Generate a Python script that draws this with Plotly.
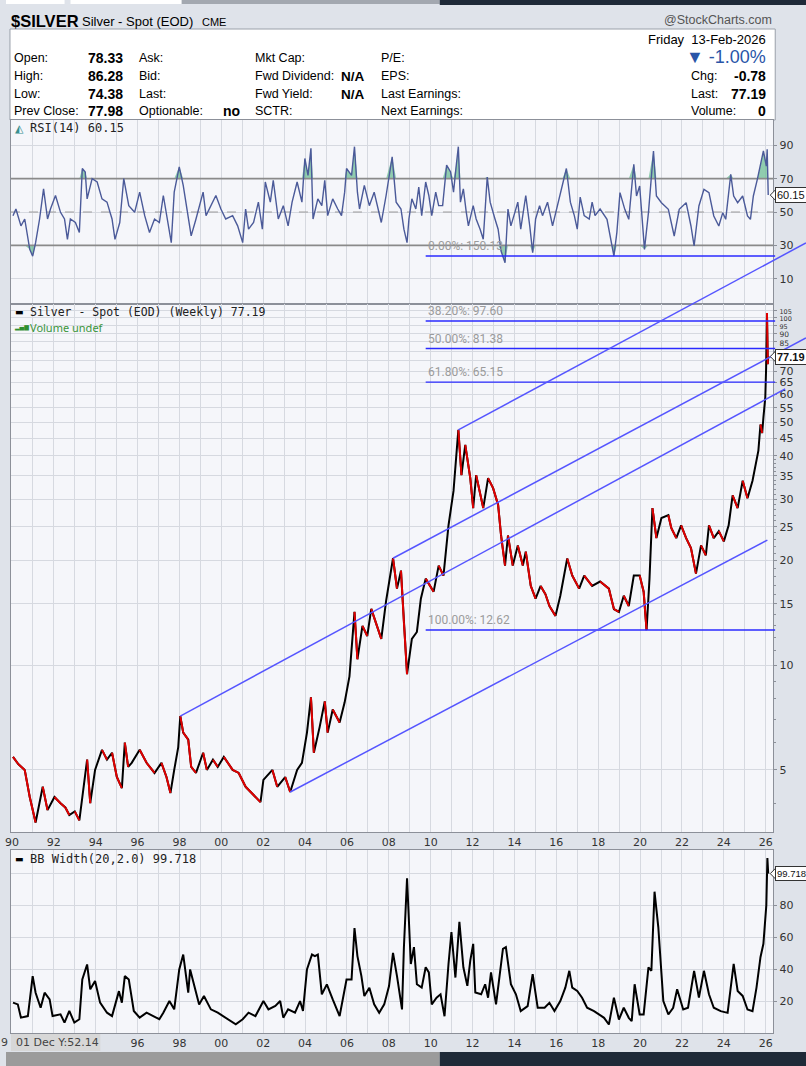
import math
import plotly.graph_objects as go

W, H = 806, 1066

# ------------------------------------------------------------------ data
price_t = [1990.05, 1990.30, 1990.61, 1990.85, 1991.13, 1991.30, 1991.47, 1991.70, 1992.03, 1992.32,
           1992.55, 1992.74, 1993.00, 1993.22, 1993.45, 1993.59, 1993.74, 1993.97, 1994.30, 1994.54,
           1994.78, 1995.01, 1995.25, 1995.39, 1995.55, 1995.72, 1996.10, 1996.43, 1996.81, 1997.14,
           1997.38, 1997.57, 1997.75, 1997.94, 1998.04, 1998.18, 1998.42, 1998.56, 1998.79, 1999.13,
           1999.31, 1999.60, 1999.83, 2000.12, 2000.54, 2000.83, 2001.16, 2001.63, 2001.87, 2002.01,
           2002.44, 2002.67, 2003.05, 2003.29, 2003.62, 2003.85, 2004.09, 2004.28, 2004.42, 2004.70,
           2004.94, 2005.08, 2005.32, 2005.65, 2005.89, 2006.12, 2006.36, 2006.50, 2006.74, 2006.97,
           2007.16, 2007.64, 2007.87, 2008.20, 2008.39, 2008.58, 2008.72, 2008.87, 2009.10, 2009.34,
           2009.53, 2009.76, 2010.14, 2010.38, 2010.61, 2010.85, 2011.09, 2011.32, 2011.47, 2011.65,
           2011.89, 2012.03, 2012.17, 2012.51, 2012.74, 2012.98, 2013.22, 2013.36, 2013.55, 2013.69,
           2013.92, 2014.16, 2014.40, 2014.54, 2014.78, 2015.01, 2015.25, 2015.48, 2015.67, 2015.96,
           2016.19, 2016.52, 2016.76, 2017.09, 2017.33, 2017.71, 2018.09, 2018.51, 2018.75, 2018.99,
           2019.22, 2019.46, 2019.70, 2019.98, 2020.17, 2020.31, 2020.45, 2020.59, 2020.78, 2021.02,
           2021.35, 2021.49, 2021.73, 2021.96, 2022.20, 2022.43, 2022.67, 2022.91, 2023.14, 2023.29,
           2023.52, 2023.76, 2024.00, 2024.23, 2024.42, 2024.66, 2024.90, 2025.13, 2025.37, 2025.51,
           2025.65, 2025.75, 2025.83, 2025.89, 2025.98, 2026.02, 2026.06, 2026.10, 2026.12]
price_v = [5.45, 5.20, 5.00, 4.18, 3.53, 4.00, 4.47, 3.83, 4.18, 4.01,
           3.90, 3.71, 3.80, 3.58, 4.50, 5.35, 4.01, 5.00, 5.71, 5.35,
           5.60, 4.77, 4.43, 5.99, 5.10, 5.24, 5.71, 5.24, 4.90, 5.24,
           4.77, 4.29, 5.00, 5.80, 7.14, 6.40, 6.11, 5.10, 4.90, 5.60,
           5.00, 5.35, 5.10, 5.45, 5.00, 4.90, 4.47, 4.18, 4.04, 4.68,
           5.00, 4.47, 4.77, 4.32, 5.00, 5.24, 6.40, 8.08, 5.60, 6.66,
           7.87, 6.40, 7.46, 6.84, 7.82, 9.29, 14.23, 10.40, 12.97, 12.13,
           14.52, 11.90, 15.32, 20.30, 16.60, 18.70, 13.30, 9.42, 11.90, 12.46,
           15.53, 17.74, 16.27, 19.34, 18.10, 25.25, 31.70, 47.50, 35.20, 43.00,
           34.50, 28.30, 35.20, 28.30, 34.50, 32.30, 28.90, 23.60, 19.34, 23.60,
           19.34, 22.10, 19.34, 21.20, 16.90, 15.53, 16.90, 16.00, 14.80, 13.86,
           15.84, 20.27, 18.10, 16.60, 18.10, 16.90, 17.40, 16.60, 14.50, 14.23,
           15.84, 14.80, 18.10, 18.10, 16.27, 12.62, 17.74, 28.30, 23.20, 26.50,
           27.00, 24.80, 23.20, 25.25, 23.20, 21.70, 18.34, 22.10, 20.70, 25.25,
           23.20, 24.30, 22.70, 25.25, 30.80, 28.30, 33.90, 30.20, 33.90, 37.70,
           41.40, 49.20, 46.50, 51.50, 58.90, 71.50, 103.0, 73.40, 77.19]

rsi_t = [1990.05, 1990.19, 1990.43, 1990.61, 1990.85, 1990.99, 1991.13, 1991.32, 1991.51, 1991.70,
         1991.84, 1992.08, 1992.32, 1992.51, 1992.65, 1992.79, 1993.03, 1993.22, 1993.36, 1993.50,
         1993.59, 1993.83, 1994.07, 1994.30, 1994.54, 1994.78, 1994.92, 1995.15, 1995.34, 1995.58,
         1995.86, 1996.10, 1996.34, 1996.57, 1996.81, 1997.04, 1997.23, 1997.38, 1997.61, 1997.75,
         1997.99, 1998.18, 1998.42, 1998.56, 1998.79, 1999.13, 1999.27, 1999.60, 1999.74, 1999.98,
         2000.21, 2000.54, 2000.78, 2001.02, 2001.16, 2001.30, 2001.54, 2001.77, 2001.96, 2002.10,
         2002.34, 2002.48, 2002.72, 2002.96, 2003.19, 2003.38, 2003.62, 2003.85, 2003.99, 2004.14,
         2004.28, 2004.38, 2004.61, 2004.80, 2004.94, 2005.08, 2005.32, 2005.56, 2005.74, 2005.89,
         2005.98, 2006.22, 2006.36, 2006.50, 2006.60, 2006.83, 2007.07, 2007.30, 2007.64, 2007.87,
         2008.16, 2008.35, 2008.58, 2008.72, 2008.87, 2008.96, 2009.10, 2009.29, 2009.43, 2009.57,
         2009.76, 2009.91, 2010.05, 2010.24, 2010.38, 2010.57, 2010.76, 2010.95, 2011.09, 2011.23,
         2011.32, 2011.42, 2011.56, 2011.70, 2011.80, 2012.03, 2012.17, 2012.36, 2012.51, 2012.70,
         2012.84, 2013.07, 2013.22, 2013.36, 2013.55, 2013.69, 2013.83, 2014.02, 2014.16, 2014.30,
         2014.54, 2014.73, 2014.87, 2015.01, 2015.20, 2015.34, 2015.58, 2015.82, 2016.05, 2016.29,
         2016.48, 2016.67, 2016.86, 2017.00, 2017.14, 2017.33, 2017.57, 2017.71, 2017.85, 2018.09,
         2018.42, 2018.66, 2018.75, 2018.89, 2019.04, 2019.27, 2019.46, 2019.70, 2019.83, 2019.98,
         2020.21, 2020.40, 2020.64, 2020.78, 2021.02, 2021.35, 2021.63, 2021.87, 2022.20, 2022.43,
         2022.58, 2022.81, 2023.05, 2023.29, 2023.52, 2023.76, 2023.95, 2024.09, 2024.33, 2024.47,
         2024.66, 2024.90, 2025.13, 2025.27, 2025.41, 2025.60, 2025.75, 2025.89, 2026.03, 2026.07,
         2026.12]
rsi_v = [47.8, 51.8, 41.7, 45.8, 27.6, 23.5, 31.6, 45.8, 63.9, 45.8,
         51.8, 59.9, 49.8, 45.8, 33.6, 45.8, 43.7, 37.7, 76.1, 74.0,
         57.9, 70.0, 68.0, 57.9, 55.9, 45.8, 33.6, 43.7, 70.0, 53.8,
         49.8, 61.9, 47.8, 37.7, 45.8, 43.7, 59.9, 47.8, 31.6, 61.9,
         77.1, 66.0, 45.8, 35.7, 45.8, 61.9, 47.8, 55.9, 59.9, 51.8,
         45.8, 47.8, 41.7, 31.6, 51.8, 39.7, 43.7, 55.9, 39.7, 68.0,
         55.9, 69.0, 45.8, 53.8, 41.7, 55.9, 68.0, 55.9, 82.1, 72.0,
         88.2, 45.8, 57.9, 53.8, 69.0, 47.8, 57.9, 51.8, 47.8, 61.9,
         76.1, 72.0, 89.2, 61.9, 51.8, 66.0, 53.8, 61.9, 43.7, 59.9,
         83.1, 55.9, 51.8, 39.7, 31.6, 45.8, 57.9, 51.8, 64.9, 47.8,
         68.0, 59.9, 47.8, 61.9, 53.8, 53.8, 78.1, 74.0, 61.9, 79.1,
         89.2, 55.9, 63.9, 49.8, 41.7, 53.8, 45.8, 39.7, 33.6, 71.0,
         55.9, 45.8, 39.7, 26.6, 19.5, 51.8, 41.7, 49.8, 55.9, 39.7,
         59.9, 41.7, 25.6, 45.8, 53.8, 47.8, 55.9, 41.7, 53.8, 66.0,
         76.1, 55.9, 47.8, 39.7, 58.9, 47.8, 45.8, 55.9, 47.8, 51.8,
         45.6, 29.6, 23.6, 37.6, 61.6, 51.6, 45.6, 78.6, 59.6, 65.6,
         27.6, 49.6, 86.6, 59.6, 55.6, 51.6, 35.6, 51.6, 55.6, 41.6,
         29.6, 53.6, 63.6, 61.6, 47.6, 41.6, 49.6, 45.6, 72.6, 59.6,
         55.6, 59.6, 47.6, 45.6, 59.6, 69.6, 77.6, 86.6, 77.6, 87.6,
         60.15]

bbw_t = [1990.05, 1990.28, 1990.43, 1990.76, 1990.99, 1991.13, 1991.37, 1991.56, 1991.80, 1991.94,
         1992.32, 1992.51, 1992.74, 1992.98, 1993.22, 1993.36, 1993.59, 1993.74, 1993.97, 1994.21,
         1994.54, 1994.78, 1995.11, 1995.25, 1995.39, 1995.58, 1995.82, 1996.10, 1996.43, 1996.76,
         1997.04, 1997.23, 1997.52, 1997.75, 1997.99, 1998.18, 1998.42, 1998.51, 1998.70, 1998.94,
         1999.17, 1999.50, 1999.83, 2000.21, 2000.69, 2001.02, 2001.30, 2001.63, 2002.01, 2002.25,
         2002.58, 2002.81, 2002.96, 2003.19, 2003.52, 2003.76, 2003.90, 2004.09, 2004.33, 2004.47,
         2004.61, 2004.80, 2005.04, 2005.32, 2005.65, 2005.98, 2006.22, 2006.36, 2006.50, 2006.69,
         2006.83, 2007.07, 2007.30, 2007.54, 2007.78, 2008.01, 2008.20, 2008.39, 2008.63, 2008.72,
         2008.87, 2009.05, 2009.20, 2009.34, 2009.57, 2009.76, 2009.91, 2010.05, 2010.28, 2010.47,
         2010.66, 2010.85, 2010.99, 2011.18, 2011.37, 2011.56, 2011.75, 2011.89, 2012.03, 2012.13,
         2012.41, 2012.60, 2012.74, 2012.88, 2013.12, 2013.45, 2013.59, 2013.83, 2014.07, 2014.30,
         2014.63, 2014.87, 2015.11, 2015.44, 2015.67, 2015.91, 2016.19, 2016.43, 2016.62, 2016.76,
         2017.00, 2017.23, 2017.47, 2017.80, 2018.04, 2018.28, 2018.51, 2018.75, 2018.99, 2019.22,
         2019.46, 2019.60, 2019.74, 2019.98, 2020.17, 2020.40, 2020.54, 2020.69, 2020.87, 2021.11,
         2021.35, 2021.58, 2021.77, 2022.06, 2022.29, 2022.58, 2022.81, 2023.05, 2023.29, 2023.52,
         2023.85, 2024.18, 2024.47, 2024.66, 2024.90, 2025.13, 2025.37, 2025.56, 2025.75, 2025.89,
         2026.03, 2026.08, 2026.12]
bbw_v = [19.0, 17.9, 9.6, 10.6, 35.6, 25.2, 15.8, 25.2, 21.0, 10.6,
         11.7, 6.5, 13.8, 6.5, 8.6, 33.5, 42.9, 27.3, 32.5, 19.0,
         12.7, 10.6, 26.2, 19.0, 35.6, 33.5, 13.8, 9.6, 12.7, 10.6,
         8.6, 12.7, 20.0, 14.8, 39.8, 49.1, 25.2, 39.8, 29.4, 17.9,
         23.1, 14.8, 12.7, 9.6, 5.4, 8.6, 12.7, 10.6, 20.0, 14.8,
         16.9, 20.0, 9.6, 14.8, 12.7, 20.0, 13.8, 39.8, 49.1, 48.1,
         49.1, 24.2, 30.4, 21.0, 10.6, 33.5, 33.5, 65.7, 48.1, 35.6,
         23.1, 28.3, 17.9, 12.7, 17.9, 29.4, 50.1, 35.6, 14.8, 53.7,
         96.8, 43.2, 53.7, 30.5, 28.4, 41.1, 37.9, 17.9, 22.1, 24.2,
         10.5, 43.2, 63.2, 34.7, 69.5, 41.1, 29.5, 45.3, 55.8, 25.3,
         24.2, 30.5, 22.1, 37.9, 17.9, 52.6, 53.7, 30.5, 24.2, 13.7,
         16.8, 36.8, 15.8, 15.8, 18.9, 13.7, 20.0, 28.4, 38.9, 28.4,
         26.3, 22.1, 15.8, 13.7, 11.6, 9.5, 5.3, 22.1, 8.4, 15.8,
         9.5, 7.4, 30.5, 11.6, 11.6, 41.1, 38.9, 88.4, 66.3, 20.0,
         11.6, 15.8, 27.4, 14.7, 15.8, 38.9, 22.1, 38.9, 24.2, 15.8,
         13.7, 12.6, 43.2, 26.3, 23.2, 14.7, 13.7, 28.4, 47.4, 55.8,
         80.0, 109.5, 99.718]

fib_pct = ["0.00%", "38.20%", "50.00%", "61.80%", "100.00%"]
fib_val = [150.13, 97.60, 81.38, 65.15, 12.62]
fib_t = [2009.76, 2026.45]

chan_t0 = [1998.04, 2003.29, 2008.20, 2011.32]
chan_p0 = [7.14, 4.32, 20.30, 47.50]
chan_t1 = [2026.93, 2026.08, 2027.92, 2027.92]
chan_p1 = [62.3, 22.9, 87.3, 163.7]

price_ticks = [5, 10, 15, 20, 25, 30, 35, 40, 45, 50, 55, 60, 65, 70, 75, 80, 85, 90, 95, 100, 105]
price_tick_text = ["5", "10", "15", "20", "25", "30", "35", "40", "45", "50", "55", "60", "65", "70",
                   "", "", "85", "90", "95", "100", "105"]
price_minor = [4, 6, 7, 8, 9, 11, 12, 13, 14, 16, 17, 18, 19, 21, 22, 23, 24, 26, 27, 28, 29,
               31, 32, 33, 34, 36, 37, 38, 39]
rsi_ticks = [10, 30, 50, 70, 90]
bbw_ticks = [20, 40, 60, 80, 100]
years = list(range(1990, 2027))
year_text = [f"{y % 100:02d}" if y % 2 == 0 else "" for y in years]
year_text_bottom = ["" if y < 1995 else t for y, t in zip(years, year_text)]

last_rsi, last_price, last_bbw = 60.15, 77.19, 99.718

# ------------------------------------------------------------------ layout geometry (pixels)
PL, PR = 5, 773
RSI_T, RSI_B = 120, 304
MAIN_T, MAIN_B = 304, 832
BB_T, BB_B = 850, 1033
OVR_R = 806
X0, X1 = 1989.953, 2026.36
RSI_RANGE = [-5.2, 105.2]
BB_RANGE = [0, 114.5]


def main_log_at(py):
    return 1 + (665.2 - py) / 347.8


def xp(px):
    return px / W


def yp(py):
    return 1 - py / H


def lin_px(v, rng, top, bot):
    return top + (rng[1] - v) / (rng[1] - rng[0]) * (bot - top)


OVX1 = X0 + (OVR_R - PL) * (X1 - X0) / (PR - PL)
MAIN_RANGE = [main_log_at(MAIN_B), main_log_at(MAIN_T)]

HDR = "Liberation Sans, Arial, sans-serif"
MONO = "DejaVu Sans Mono, monospace"
SANS = "DejaVu Sans, Verdana, sans-serif"
GRID = "#d6d9e0"
BORDER = "#8c9099"

fig = go.Figure()

# ---------------- RSI panel
n = len(rsi_t)
fig.add_trace(go.Scatter(x=rsi_t, y=[70] * n, mode="lines", line=dict(width=0), xaxis="x", yaxis="y",
                         showlegend=False, hoverinfo="skip"))
fig.add_trace(go.Scatter(x=rsi_t, y=[max(v, 70) for v in rsi_v], mode="lines", line=dict(width=0),
                         fill="tonexty", fillcolor="rgba(110,190,150,0.75)", xaxis="x", yaxis="y",
                         showlegend=False, hoverinfo="skip"))
fig.add_trace(go.Scatter(x=rsi_t, y=[30] * n, mode="lines", line=dict(width=0), xaxis="x", yaxis="y",
                         showlegend=False, hoverinfo="skip"))
fig.add_trace(go.Scatter(x=rsi_t, y=[min(v, 30) for v in rsi_v], mode="lines", line=dict(width=0),
                         fill="tonexty", fillcolor="rgba(110,190,150,0.75)", xaxis="x", yaxis="y",
                         showlegend=False, hoverinfo="skip"))
for lvl, dash, col, wd in [(70, "solid", "#8a8a8a", 1.6), (30, "solid", "#8a8a8a", 1.6), (50, "dash", "#9c9c9c", 1)]:
    fig.add_trace(go.Scatter(x=[X0, X1], y=[lvl, lvl], mode="lines", line=dict(color=col, width=wd, dash=dash),
                             xaxis="x", yaxis="y", showlegend=False, hoverinfo="skip"))
fig.add_trace(go.Scatter(x=rsi_t, y=rsi_v, mode="lines", line=dict(color="#4b5a99", width=1.4),
                         xaxis="x", yaxis="y", showlegend=False))

# ---------------- price panel (black line, red on down segments)
fig.add_trace(go.Scatter(x=price_t, y=price_v, mode="lines", line=dict(color="#000000", width=2),
                         xaxis="x2", yaxis="y2", showlegend=False))
rx, ry = [], []
for i in range(len(price_t) - 1):
    if price_v[i + 1] < price_v[i]:
        rx += [price_t[i], price_t[i + 1], None]
        ry += [price_v[i], price_v[i + 1], None]
fig.add_trace(go.Scatter(x=rx, y=ry, mode="lines", line=dict(color="#e00000", width=2),
                         xaxis="x2", yaxis="y2", showlegend=False, connectgaps=False))

# ---------------- BB width panel
fig.add_trace(go.Scatter(x=bbw_t, y=bbw_v, mode="lines", line=dict(color="#000000", width=2),
                         xaxis="x3", yaxis="y3", showlegend=False))

# ---------------- overlay: fib lines and channel lines
for v in fib_val:
    fig.add_trace(go.Scatter(x=fib_t, y=[v, v], mode="lines", line=dict(color="#2a2aff", width=1.4),
                             xaxis="x4", yaxis="y4", showlegend=False, hoverinfo="skip"))
for t0, p0, t1, p1 in zip(chan_t0, chan_p0, chan_t1, chan_p1):
    fig.add_trace(go.Scatter(x=[t0, t1], y=[p0, p1], mode="lines", line=dict(color="#5555ff", width=1.5),
                             xaxis="x4", yaxis="y4", showlegend=False, hoverinfo="skip"))

# ---------------- shapes: page strips, info box, panel backgrounds
shapes = []


def rect(x0, y0, x1, y1, fill, line=None, layer="below"):
    shapes.append(dict(type="rect", xref="paper", yref="paper", x0=xp(x0), x1=xp(x1), y0=yp(y1), y1=yp(y0),
                       fillcolor=fill, line=dict(width=1 if line else 0, color=line or fill), layer=layer))


rect(0, 0, 59, 4, "#ffffff")
rect(65, 0, 177, 4, "#ffffff")
rect(177, 0, 437, 4, "#a3a8b0")
rect(437, 0, 806, 5, "#1f2a38")
rect(4, 29, 775, 120, "#ffffff", "#9aa0aa")
rect(PL, RSI_T, PR, RSI_B, "#f5f6fa")
rect(PL, MAIN_T, PR, MAIN_B, "#f5f6fa")
rect(PL, BB_T, PR, BB_B, "#f5f6fa")
rect(0, 1052, 437, 1066, "#9b9b9b")
rect(437, 1052, 806, 1066, "#1f2a38")
rect(5, 1034, 95, 1051, "#d7d7d7", layer="above")

# callout pointers (small left-pointing triangles)
callout_px = [lin_px(last_rsi, RSI_RANGE, RSI_T, RSI_B),
              lin_px(math.log10(last_price), MAIN_RANGE, MAIN_T, MAIN_B),
              lin_px(last_bbw, BB_RANGE, BB_T, BB_B)]
for py in callout_px:
    shapes.append(dict(type="path", xref="paper", yref="paper", layer="above",
                       path=f"M {xp(770)},{yp(py)} L {xp(776)},{yp(py - 6)} L {xp(776)},{yp(py + 6)} Z",
                       fillcolor="#ffffff", line=dict(color="#333", width=1)))

# ---------------- annotations
ann = []


def txt(x, y, s, size=13, color="#000", family=HDR, anchor="left", bold=False, **kw):
    if bold:
        s = f"<b>{s}</b>"
    d = dict(x=xp(x), y=yp(y), xref="paper", yref="paper", text=s, showarrow=False, xanchor=anchor,
             yanchor="middle", font=dict(size=size, color=color, family=family))
    d.update(kw)
    ann.append(d)


txt(3, 21, "$SILVER", size=16.5, bold=True)
txt(75, 21, "Silver - Spot (EOD)", size=13)
txt(195, 22, "CME", size=11)
txt(774, 20, "@StockCharts.com", size=12.5, color="#555", anchor="right")
txt(768, 39, "Friday  13-Feb-2026", size=13, anchor="right")

row_y = [58, 76, 94, 111]
col1_lab = ["Open:", "High:", "Low:", "Prev Close:"]
col1_val = ["78.33", "86.28", "74.38", "77.98"]
col2_lab = ["Ask:", "Bid:", "Last:", "Optionable:"]
col2_val = ["", "", "", "no"]
col3_lab = ["Mkt Cap:", "Fwd Dividend:", "Fwd Yield:", "SCTR:"]
col3_val = ["", "N/A", "N/A", ""]
col4_lab = ["P/E:", "EPS:", "Last Earnings:", "Next Earnings:"]
right_lab = ["", "Chg:", "Last:", "Volume:"]
right_val = ["", "-0.78", "77.19", "0"]
for i, y in enumerate(row_y):
    txt(6, y, col1_lab[i], size=12.5)
    txt(120, y, col1_val[i], size=14, bold=True, anchor="right")
    txt(132, y, col2_lab[i], size=12.5)
    if col2_val[i]:
        txt(238, y, col2_val[i], size=14, bold=True, anchor="right")
    txt(249, y, col3_lab[i], size=12.5)
    if col3_val[i]:
        txt(364, y, col3_val[i], size=13.5, bold=True, anchor="right")
    txt(376, y, col4_lab[i], size=12.5)
    if right_lab[i]:
        txt(688, y, right_lab[i], size=12.5)
        txt(768, y, right_val[i], size=14, bold=True, anchor="right")
txt(768, 57, "▼ -1.00%", size=18, color="#2a55a8", anchor="right")

txt(7, 128, "◭", size=11, color="#3a8f8f", family=SANS)
txt(22, 128, "RSI(14) 60.15", size=12, family=MONO, color="#222")
txt(7, 312, "▬", size=9, color="#000", family=SANS)
txt(22, 312, "Silver - Spot (EOD) (Weekly) 77.19", size=11.5, family=MONO, color="#222")
txt(6, 327, "▂▄▆", size=6, color="#2f8f2f", family=SANS)
txt(22, 327, "Volume undef", size=11, family="Noto Sans, sans-serif", color="#3b953b")
txt(7, 859, "▬", size=9, color="#000", family=SANS)
txt(22, 859, "BB Width(20,2.0) 99.718", size=12, family=MONO, color="#222")

txt(4, 1042, "9", size=11, family=SANS, color="#444", anchor="right")
txt(8, 1042, "01 Dec Y:52.14", size=11, family=SANS, color="#444")

# fib labels on the overlay axes
for pct, v in zip(fib_pct, fib_val):
    ann.append(dict(x=fib_t[0], y=math.log10(v), xref="x4", yref="y4", text=f"{pct}: {v:.2f}",
                    showarrow=False, xanchor="left", yanchor="bottom", yshift=1,
                    font=dict(size=12, color="#9b9b9b", family="Roboto, sans-serif")))

# last-value callouts
for yref, yv, s, fs in [("y", last_rsi, f"{last_rsi:.2f}", 11),
                        ("y2", math.log10(last_price), f"<b>{last_price:.2f}</b>", 11),
                        ("y3", last_bbw, f"{last_bbw:.3f}", 9.5)]:
    ann.append(dict(x=xp(775), y=yv, xref="paper", yref=yref, text=s, showarrow=False, xanchor="left",
                    yanchor="middle", bgcolor="#ffffff", bordercolor="#333", borderwidth=1, borderpad=1,
                    font=dict(size=fs, color="#111", family=HDR)))

axis_font = dict(size=11, color="#333", family=SANS)
common_x = dict(range=[X0, X1], tickmode="array", tickvals=years, showgrid=True, gridcolor=GRID,
                zeroline=False, showline=True, linecolor=BORDER, mirror=True, ticks="", tickfont=axis_font,
                ticklabeloverflow="allow")
common_y = dict(side="right", showgrid=True, gridcolor=GRID, zeroline=False, showline=True, linecolor=BORDER,
                mirror=True, ticks="outside", ticklen=3, tickcolor=BORDER, tickfont=axis_font)


def tick_label(v, t):
    if v >= 95:
        return f'<span style="font-size:6.5px">{t}</span>'
    if v >= 85:
        return f'<span style="font-size:7.5px">{t}</span>'
    return t


small = [tick_label(v, t) for v, t in zip(price_ticks, price_tick_text)]

fig.update_layout(
    width=W, height=H, margin=dict(l=0, r=0, t=0, b=0),
    paper_bgcolor="#dfe3ea", plot_bgcolor="rgba(0,0,0,0)",
    showlegend=False, shapes=shapes, annotations=ann,
    xaxis=dict(domain=[xp(PL), xp(PR)], anchor="y", ticktext=[""] * len(years), **common_x),
    yaxis=dict(domain=[yp(RSI_B), yp(RSI_T)], anchor="x", range=RSI_RANGE, tickmode="array",
               tickvals=rsi_ticks, **common_y),
    xaxis2=dict(domain=[xp(PL), xp(PR)], anchor="y2", matches="x", ticktext=year_text, **common_x),
    yaxis2=dict(domain=[yp(MAIN_B), yp(MAIN_T)], anchor="x2", type="log",
                range=MAIN_RANGE, tickmode="array", tickvals=price_ticks, ticktext=small,
                minor=dict(tickmode="array", tickvals=price_minor, ticks="outside", ticklen=2,
                           tickcolor=BORDER, showgrid=False), **common_y),
    xaxis3=dict(domain=[xp(PL), xp(PR)], anchor="y3", matches="x", ticktext=year_text_bottom, **common_x),
    yaxis3=dict(domain=[yp(BB_B), yp(BB_T)], anchor="x3", range=BB_RANGE, tickmode="array",
                tickvals=bbw_ticks, ticktext=["20", "40", "60", "80", ""], **common_y),
    xaxis4=dict(domain=[xp(PL), 1.0], anchor="y4", range=[X0, OVX1], visible=False, fixedrange=True),
    yaxis4=dict(domain=[yp(MAIN_B), yp(RSI_T)], anchor="x4", type="log",
                range=[main_log_at(MAIN_B), main_log_at(RSI_T)], visible=False, fixedrange=True),
)

fig.write_html("out.html", config={"displayModeBar": False},
               post_script="document.body.style.margin='0';document.body.style.overflow='hidden';")
